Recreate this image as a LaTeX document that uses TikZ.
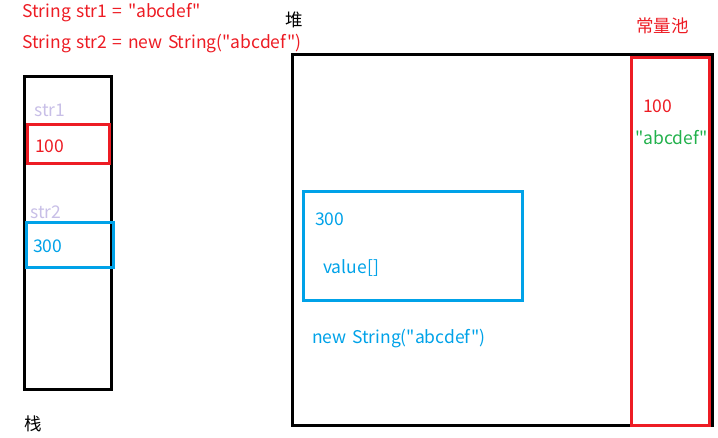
\documentclass[tikz,border=0pt]{standalone}
\usepackage{fontspec}
\setmainfont{Noto Sans CJK SC}[Ligatures=TeXOff]
\definecolor{pred}{HTML}{ED1C24}
\definecolor{pblue}{HTML}{00A2E8}
\definecolor{pgreen}{HTML}{22B14C}
\definecolor{plav}{HTML}{C8BFE7}
\newcommand\myfont{\fontsize{17.5}{20}\selectfont\spaceskip=5.5pt plus 1pt\relax}
\begin{document}
\begin{tikzpicture}[x=1pt,y=-1pt,
  txt/.style={anchor=west,inner sep=0pt,font=\myfont},
  box/.style={line width=3pt}]
\useasboundingbox (0,0) rectangle (718,437);
% top code lines
\node[txt,text=pred] (c1) at (22,13) {String str1 = "abcdef"};
\node[txt,text=pred] (c2) at (22,44) {String str2 = new String("abcdef")};
% stack
\draw[box,black] (24,76) rectangle (111,389);
\node[txt,text=plav] (s1) at (34,110) {str1};
\draw[box,pred] (27,124) rectangle (109,163);
\node[txt,text=pred] (v1) at (35,146) {100};
\node[txt,text=plav] (s2) at (30,212) {str2};
\draw[box,pblue] (26,222) rectangle (113,267);
\node[txt,text=pblue] (v2) at (33,246) {300};
\node[txt] (stack) at (24,424) {栈};
% heap
\node[txt] (heap) at (285,20) {堆};
\draw[box,black] (292,54) rectangle (712,425);
\draw[box,pblue] (303,191) rectangle (522,300);
\node[txt,text=pblue] (h300) at (315,219) {300};
\node[txt,text=pblue] (val) at (323,268) {value[]};
\node[txt,text=pblue] (ns) at (312,339) {new String("abcdef")};
% constant pool
\node[txt,text=pred] (pool) at (636,26) {常量池};
\draw[box,pred] (631,57) rectangle (709,425);
\node[txt,text=pred] (p100) at (643,106) {100};
\node[txt,text=pgreen] (pabc) at (635,138) {"abcdef"};
\end{tikzpicture}
\end{document}
